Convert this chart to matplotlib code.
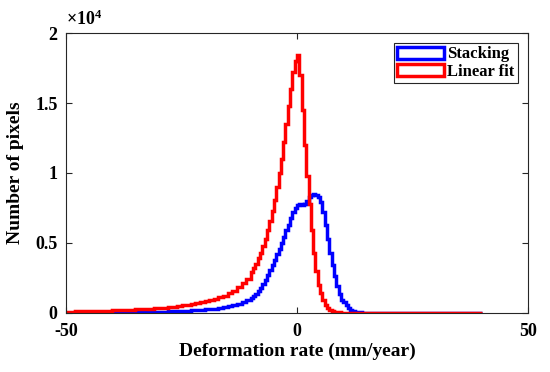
import numpy as np
import matplotlib
matplotlib.use('Agg')
import matplotlib.pyplot as plt
from matplotlib.ticker import FuncFormatter
from matplotlib.patches import Patch

plt.rcParams['font.family'] = ['Liberation Serif', 'DejaVu Serif']
plt.rcParams['font.weight'] = 'bold'
plt.rcParams['axes.unicode_minus'] = False
plt.rcParams['mathtext.fontset'] = 'custom'
plt.rcParams['mathtext.rm'] = 'Liberation Serif:bold'
plt.rcParams['mathtext.it'] = 'Liberation Serif:bold'
plt.rcParams['mathtext.bf'] = 'Liberation Serif:bold'

# bin edges (mm/year): 1-unit bins in the tails, 0.5-unit bins around the peak
edges_left = np.arange(-50, -10, 1.0)
edges_mid = np.arange(-10, 14, 0.5)
edges_right = np.arange(14, 41, 1.0)
edges = np.concatenate([edges_left, edges_mid, edges_right])

stack_left = [20, 20, 20, 25, 25, 25, 30, 30, 30, 35,
              35, 40, 40, 45, 50, 55, 60, 65, 70, 80,
              85, 95, 105, 115, 130, 145, 160, 180, 200, 230,
              250, 280, 310, 350, 400, 460, 540, 640, 760, 900]
stack_mid = [1050, 1200, 1380, 1580, 1800, 2050, 2350, 2700, 3050, 3450,
             3800, 4200, 4600, 5000, 5400, 5900, 6300, 6800, 7200, 7500,
             7700, 7800, 7700, 7800, 8000, 8300, 8450, 8500, 8450, 8300,
             7900, 7200, 6300, 5300, 4300, 3400, 2600, 1900, 1350, 950,
             800, 550, 350, 220, 130, 80, 50, 30]
stack_right = [20, 15, 12, 10, 8, 8, 6, 6, 5, 5, 5, 4, 4,
               4, 3, 3, 3, 3, 2, 2, 2, 2, 2, 2, 2, 2]

linfit_left = [80, 90, 100, 100, 110, 120, 130, 140, 150, 160,
               170, 180, 190, 210, 220, 240, 260, 280, 300, 320,
               350, 380, 410, 450, 490, 530, 580, 640, 700, 770,
               830, 900, 990, 1100, 1230, 1390, 1580, 1820, 2100, 2450]
linfit_mid = [2900, 3200, 3500, 3900, 4300, 4800, 5300, 5900, 6600, 7300,
              8100, 9000, 10000, 11000, 12200, 13500, 14800, 16000, 17200, 18000,
              18400, 17000, 14500, 12000, 9800, 7800, 5900, 4300, 3000, 2000,
              1400, 900, 550, 330, 200, 120, 75, 50, 35, 25,
              20, 18, 15, 12, 10, 10, 8, 8]
linfit_right = [8, 7, 7, 6, 6, 6, 5, 5, 5, 5, 5, 4, 4,
                4, 4, 4, 4, 3, 3, 3, 3, 3, 3, 3, 3, 3]

stacking = np.array(stack_left + stack_mid + stack_right)
linfit = np.array(linfit_left + linfit_mid + linfit_right)

fig = plt.figure(figsize=(5.5, 3.72), dpi=100)
ax = fig.add_axes([0.12, 0.159, 0.84, 0.752])

ax.stairs(stacking, edges, color='#0000FF', linewidth=2.5)
ax.stairs(linfit, edges, color='#FF0000', linewidth=2.5)

ax.set_xlim(-50, 50)
ax.set_ylim(0, 20000)
ax.set_xticks([-50, 0, 50])
ax.set_yticks([0, 5000, 10000, 15000, 20000])
ax.yaxis.set_major_formatter(FuncFormatter(lambda v, p: '%g' % (v / 1e4)))
ax.tick_params(direction='in', top=True, right=True, labelsize=13,
               color='#262626', length=4)
ax.tick_params(axis='x', pad=7)
ax.tick_params(axis='y', pad=6)
for s in ax.spines.values():
    s.set_color('#262626')
    s.set_linewidth(0.8)

ax.text(0.0, 1.015, r'$\times 10^4$', transform=ax.transAxes, fontsize=13,
        ha='left', va='bottom')

ax.set_xlabel('Deformation rate (mm/year)', fontsize=14, fontweight='bold',
              labelpad=2)
ax.set_ylabel('Number of pixels', fontsize=14, fontweight='bold', labelpad=8)

handles = [Patch(facecolor='white', edgecolor='#0000FF', linewidth=2.5, label='Stacking'),
           Patch(facecolor='white', edgecolor='#FF0000', linewidth=2.5, label='Linear fit')]
leg = ax.legend(handles=handles, loc='upper right', fontsize=12, fancybox=False,
                edgecolor='#262626', framealpha=1, handlelength=2.8,
                handleheight=0.75, handletextpad=0.2, borderpad=0.2,
                labelspacing=0.1, borderaxespad=0.6)
leg.get_frame().set_linewidth(0.8)

fig.savefig('out.png', dpi=100)
